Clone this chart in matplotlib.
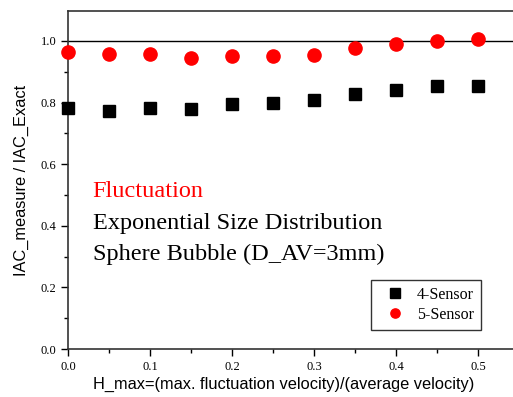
import numpy as np
import matplotlib
matplotlib.use('Agg')
import matplotlib.pyplot as plt
from matplotlib.ticker import MultipleLocator

# data
h_max = [0.0, 0.05, 0.1, 0.15, 0.2, 0.25, 0.3, 0.35, 0.4, 0.45, 0.5]
sensor4 = [0.781, 0.773, 0.781, 0.779, 0.795, 0.797, 0.809, 0.826, 0.840, 0.852, 0.855]
sensor5 = [0.964, 0.958, 0.958, 0.945, 0.952, 0.951, 0.953, 0.977, 0.990, 1.001, 1.006]
labels = ['4-Sensor', '5-Sensor']
notes = ['Fluctuation', 'Exponential Size Distribution', 'Sphere Bubble (D_AV=3mm)']
note_y = [0.512, 0.407, 0.308]

serif = 'Liberation Serif'
sans = 'Liberation Sans'

fig = plt.figure(figsize=(5.13, 3.97), dpi=100)
ax = fig.add_axes([0.1326, 0.1209, 0.879, 0.8514])

ax.plot(h_max, sensor4, 's', color='black', markersize=9.3, label=labels[0], clip_on=False, zorder=3)
ax.plot(h_max, sensor5, 'o', color='red', markersize=9.5, label=labels[1], clip_on=False, zorder=3)
ax.axhline(1.0, color='black', linewidth=1)

ax.set_xlim(0, 0.55)
ax.set_ylim(0, 1.097)
ax.xaxis.set_minor_locator(MultipleLocator(0.05))
ax.yaxis.set_minor_locator(MultipleLocator(0.1))
ax.set_xticks([0.0, 0.1, 0.2, 0.3, 0.4, 0.5])
ax.set_xticklabels(['0.0', '0.1', '0.2', '0.3', '0.4', '0.5'])
ax.set_yticks([0.0, 0.2, 0.4, 0.6, 0.8, 1.0])
ax.set_yticklabels(['0.0', '0.2', '0.4', '0.6', '0.8', '1.0'])
ax.tick_params(which='major', direction='out', length=5, width=1, labelsize=9)
ax.tick_params(which='minor', direction='out', length=3, width=1)
for lab in ax.get_xticklabels() + ax.get_yticklabels():
    lab.set_fontfamily(serif)
for s in ax.spines.values():
    s.set_linewidth(1.2)
    s.set_color('#333333')
ax.spines['right'].set_visible(False)

ax.set_xlabel('H_max=(max. fluctuation velocity)/(average velocity)', fontfamily=sans, fontsize=11.8, labelpad=3)
ax.xaxis.label.set_x(0.478)
ax.set_ylabel('IAC_measure / IAC_Exact', fontfamily=sans, fontsize=11.8, labelpad=8)

colors = ['red', 'black', 'black']
for t, c, y in zip(notes, colors, note_y):
    ax.text(0.03, y, t, color=c, fontfamily=serif, fontsize=17.5, va='center')

leg = ax.legend(loc='lower right', bbox_to_anchor=(0.916, 0.056), bbox_transform=ax.transAxes,
                borderaxespad=0, prop={'family': serif, 'size': 11.5}, frameon=True,
                fancybox=False, edgecolor='black', markerscale=0.7, handlelength=2.0,
                handletextpad=0.4, borderpad=0.45, labelspacing=0.25)
leg.get_frame().set_linewidth(1)

fig.savefig('out.png', dpi=100)
